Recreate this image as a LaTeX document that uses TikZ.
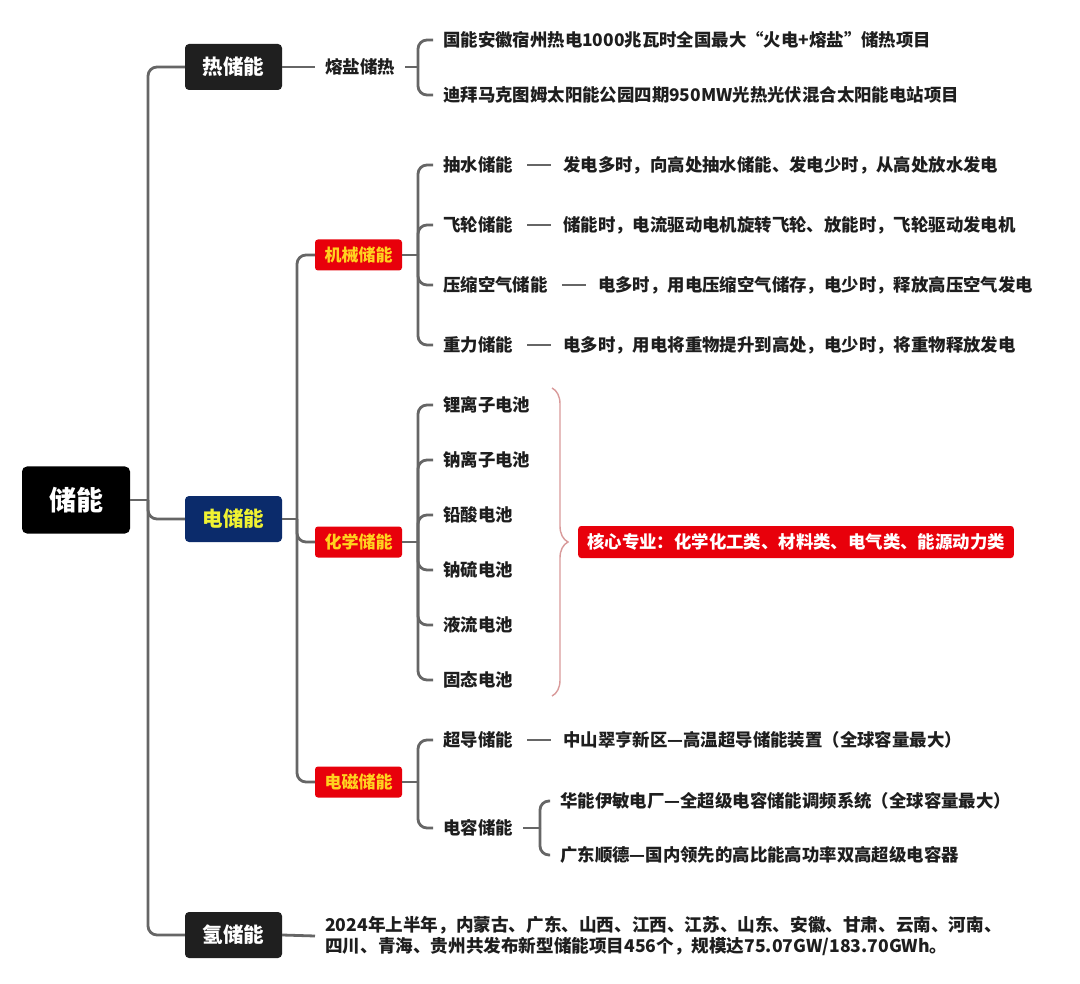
\documentclass[tikz,border=0pt]{standalone}
\usepackage{fontspec}
\setmainfont{Noto Sans CJK SC}
\usetikzlibrary{positioning,decorations.pathreplacing}

\definecolor{linegray}{HTML}{666666}
\definecolor{catdark}{HTML}{1F1F1F}
\definecolor{navy}{HTML}{0B2B6B}
\definecolor{elyellow}{HTML}{F0F232}
\definecolor{boxred}{HTML}{E8000B}
\definecolor{gold}{HTML}{FFD21F}
\definecolor{ink}{HTML}{1E1E1E}
\definecolor{bracepink}{HTML}{D99A9A}

\tikzset{
  branch/.style={draw=linegray, line width=2.8pt, rounded corners=9pt},
  dashline/.style={draw=linegray, line width=1.8pt, shorten <=4pt, shorten >=2pt},
  rootbox/.style={fill=black, text=white, rounded corners=5pt, minimum width=108pt,
    minimum height=67pt, font=\fontsize{27}{31}\selectfont\bfseries},
  catbox/.style={fill=catdark, text=white, rounded corners=4pt, minimum width=97pt,
    minimum height=46pt, font=\fontsize{20.5}{24}\selectfont\bfseries},
  redbox/.style={fill=boxred, text=gold, rounded corners=3pt, minimum width=87pt,
    minimum height=31pt, inner sep=2pt, font=\fontsize{17}{20}\selectfont\bfseries},
  corebox/.style={fill=boxred, text=white, rounded corners=3pt, minimum height=32pt,
    inner xsep=9pt, font=\fontsize{17.4}{20}\selectfont\bfseries},
  item/.style={text=ink, inner xsep=10pt, inner ysep=2pt, anchor=west,
    font=\fontsize{17.4}{20}\selectfont\bfseries},
  summary/.style={draw=bracepink, line width=1.4pt, decorate,
    decoration={brace, amplitude=16pt}},
}

\begin{document}
\begin{tikzpicture}[x=1pt, y=-1pt]
    \useasboundingbox[fill=white] (0,0) rectangle (1080,984);

    % root and first level
    \node[rootbox] (root) at (76,500) {储能};
    \node[catbox] (heat) at (233.5,67) {热储能};
    \node[catbox, fill=navy, text=elyellow] (elec) at (233.5,519) {电储能};
    \node[catbox] (hydro) at (233.5,935) {氢储能};

    \coordinate (trunk) at (148,500);
    \draw[branch] (root.east) -- (trunk);
    \draw[branch] (trunk) |- (heat.west);
    \draw[branch] (trunk) |- (elec.west);
    \draw[branch] (trunk) |- (hydro.west);

    % thermal storage
    \node[item] (salt) at (315,67) {熔盐储热};
    \coordinate (saltj) at (418,67);
    \node[item] (salt1) at (433,40) {国能安徽宿州热电1000兆瓦时全国最大“火电+熔盐”储热项目};
    \node[item] (salt2) at (433,95) {迪拜马克图姆太阳能公园四期950MW光热光伏混合太阳能电站项目};
    \draw[branch] (heat.east) -- (salt.west);
    \draw[branch] (salt.east) -- (saltj);
    \draw[branch] (saltj) |- (salt1.west);
    \draw[branch] (saltj) |- (salt2.west);

    % electric storage, second level
    \node[redbox] (mech) at (358.5,255) {机械储能};
    \node[redbox] (chem) at (358.5,542) {化学储能};
    \node[redbox] (emag) at (358.5,782) {电磁储能};
    \coordinate (elecj) at (297,519);
    \draw[branch] (elec.east) -- (elecj);
    \draw[branch] (elecj) |- (mech.west);
    \draw[branch] (elecj) |- (chem.west);
    \draw[branch] (elecj) |- (emag.west);

    % mechanical
    \coordinate (mechj) at (418,255);
    \node[item] (pump) at (433,165) {抽水储能};
    \node[item] (fly) at (433,225) {飞轮储能};
    \node[item] (air) at (433,285) {压缩空气储能};
    \node[item] (grav) at (433,345) {重力储能};
    \node[item, right=30pt of pump] (pumpd) {发电多时，向高处抽水储能、发电少时，从高处放水发电};
    \node[item, right=30pt of fly] (flyd) {储能时，电流驱动电机旋转飞轮、放能时，飞轮驱动发电机};
    \node[item, right=30pt of air] (aird) {电多时，用电压缩空气储存，电少时，释放高压空气发电};
    \node[item, right=30pt of grav] (gravd) {电多时，用电将重物提升到高处，电少时，将重物释放发电};
    \draw[branch] (mech.east) -- (mechj);
    \foreach \n in {pump,fly,air,grav}{
        \draw[branch] (mechj) |- (\n.west);
        \draw[dashline] (\n.east) -- (\n d.west);
    }

    % chemical
    \coordinate (chemj) at (418,542);
    \node[item] (li) at (433,405) {锂离子电池};
    \node[item] (na) at (433,460) {钠离子电池};
    \node[item] (lead) at (433,515) {铅酸电池};
    \node[item] (nas) at (433,570) {钠硫电池};
    \node[item] (flow) at (433,625) {液流电池};
    \node[item] (solid) at (433,680) {固态电池};
    \draw[branch] (chem.east) -- (chemj);
    \foreach \n in {li,na,lead,nas,flow,solid}
        \draw[branch] (chemj) |- (\n.west);

    \coordinate (chemtop) at (552,388);
    \coordinate (chembot) at (552,696);
    \draw[summary] (chemtop) -- (chembot);
    \node[corebox, anchor=west] (core) at (578,542) {核心专业：化学化工类、材料类、电气类、能源动力类};

    % electromagnetic
    \coordinate (emagj) at (418,782);
    \node[item] (super) at (433,740) {超导储能};
    \node[item] (cap) at (433,828) {电容储能};
    \node[item, right=30pt of super] (superd) {中山翠亨新区—高温超导储能装置（全球容量最大）};
    \draw[branch] (emag.east) -- (emagj);
    \draw[branch] (emagj) |- (super.west);
    \draw[branch] (emagj) |- (cap.west);
    \draw[dashline] (super.east) -- (superd.west);

    \coordinate (capj) at (540,828);
    \node[item] (cap1) at (550,801) {华能伊敏电厂—全超级电容储能调频系统（全球容量最大）};
    \node[item] (cap2) at (550,855) {广东顺德—国内领先的高比能高功率双高超级电容器};
    \draw[branch] (cap.east) -- (capj);
    \draw[branch] (capj) |- (cap1.west);
    \draw[branch] (capj) |- (cap2.west);

    % hydrogen
    \node[item, align=left, font=\fontsize{17.6}{20.5}\selectfont\bfseries] (hnote) at (315,936)
        {2024年上半年，内蒙古、广东、山西、江西、江苏、山东、安徽、甘肃、云南、河南、\\
         四川、青海、贵州共发布新型储能项目456个，规模达75.07GW/183.70GWh。};
    \draw[branch] (hydro.east) -- (hnote.west);
\end{tikzpicture}
\end{document}
